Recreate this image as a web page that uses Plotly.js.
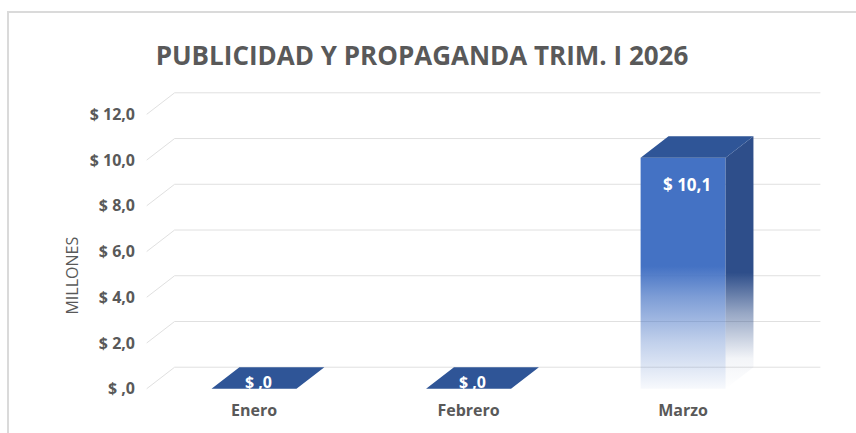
<!DOCTYPE html>
<html>
<head>
<meta charset="utf-8">
<script src="https://cdn.plot.ly/plotly-3.0.1.min.js"></script>
<style>
  html, body { margin: 0; padding: 0; background: #ffffff; }
  #wrap { position: relative; width: 856px; height: 433px; overflow: hidden; }
  #chart { width: 856px; height: 433px; }
  #frame { position: absolute; left: 7px; top: 11px; width: 900px; height: 500px;
           border-top: 2px solid #dadada; border-left: 2px solid #dadada; pointer-events: none; }
</style>
</head>
<body>
<div id="wrap">
  <div id="chart"></div>
  <div id="frame"></div>
</div>
<script>
// ---- data ----
const categories = ['Enero', 'Febrero', 'Marzo'];
const values = [0, 0, 10.1];
const valueLabels = ['$ ,0', '$ ,0', '$ 10,1'];
const tickValues = [0, 2, 4, 6, 8, 10, 12];
const tickLabels = ['$ ,0', '$ 2,0', '$ 4,0', '$ 6,0', '$ 8,0', '$ 10,0', '$ 12,0'];
const chartTitle = 'PUBLICIDAD Y PROPAGANDA TRIM. I 2026';
const axisTitle = 'MILLONES';

// ---- style / 3D depth constants ----
const barWidth = 0.396;
const hw = barWidth / 2;
const dx = 0.13;   // depth offset on x (category units)
const dy = 0.94;   // depth offset on y (value units)
const gridRight = 2.64;
const textColor = '#595959';
const FONT = 'Open Sans, Liberation Sans, sans-serif';

const idx = categories.map((c, i) => i);

// front faces (bars)
const frontFace = {
  type: 'bar', x: idx, y: values, width: barWidth,
  marker: { color: '#4472C4', line: { width: 0 } },
  hoverinfo: 'skip', showlegend: false
};

// side faces
const sx = [], sy = [];
idx.forEach((i) => {
  const v = values[i];
  if (v <= 0) return;
  sx.push(i + hw, i + hw, i + hw + dx, i + hw + dx, i + hw, null);
  sy.push(0, v, v + dy, dy, 0, null);
});
const vmax = Math.max(...values);
const sideFace = {
  type: 'scatter', mode: 'lines', x: sx, y: sy, fill: 'toself',
  line: { width: 0, color: 'rgba(0,0,0,0)' },
  fillcolor: '#2E4E8A',
  fillgradient: {
    type: 'vertical', start: 0, stop: vmax + dy,
    colorscale: [
      [0, 'rgba(46,78,138,0)'],
      [0.12, 'rgba(46,78,138,0.06)'],
      [0.3, 'rgba(46,78,138,0.5)'],
      [0.46, 'rgba(46,78,138,1)'],
      [1, 'rgba(46,78,138,1)']
    ]
  },
  hoverinfo: 'skip', showlegend: false
};

// top faces
const tx = [], ty = [];
idx.forEach((i) => {
  const v = values[i];
  tx.push(i - hw, i - hw + dx, i + hw + dx, i + hw, i - hw, null);
  ty.push(v, v + dy, v + dy, v, v, null);
});
const topFace = {
  type: 'scatter', mode: 'lines', x: tx, y: ty, fill: 'toself',
  line: { width: 0, color: 'rgba(0,0,0,0)' },
  fillcolor: '#2F5597',
  hoverinfo: 'skip', showlegend: false
};

// perspective gridlines
const shapes = tickValues.map((v) => ({
  type: 'path', xref: 'x', yref: 'y', layer: 'below',
  path: 'M ' + (-0.5) + ',' + v + ' L ' + (-0.5 + dx) + ',' + (v + dy) + ' L ' + gridRight + ',' + (v + dy),
  line: { color: '#e0e0e0', width: 1 }
}));

// value labels
const annotations = idx.map((i) => {
  const v = values[i];
  return {
    x: i + 0.02, y: v > 0 ? v : dy * 0.3, xref: 'x', yref: 'y',
    text: '<b>' + valueLabels[i] + '</b>', showarrow: false,
    yshift: v > 0 ? -27 : 0,
    font: { family: FONT, size: v > 0 ? 17 : 16, color: '#ffffff' }
  };
});
// axis title (placed like the original, beside the value scale)
annotations.push({
  xref: 'paper', yref: 'y', x: 0, y: 4.95, xanchor: 'center', yanchor: 'middle',
  xshift: -64, textangle: -90, showarrow: false, text: axisTitle,
  font: { family: FONT, size: 16, color: textColor }
});

const layout = {
  width: 856, height: 433,
  margin: { l: 136, r: 12, t: 80, b: 34 },
  paper_bgcolor: 'rgba(0,0,0,0)', plot_bgcolor: 'rgba(0,0,0,0)',
  font: { family: FONT, color: textColor },
  title: {
    text: '<b>' + chartTitle + '</b>',
    x: 0.493, xref: 'container', xanchor: 'center',
    y: 1 - 56 / 433, yref: 'container', yanchor: 'middle',
    font: { family: FONT, size: 26, color: textColor }
  },
  xaxis: {
    type: 'linear', range: [-0.55, 2.75],
    tickmode: 'array', tickvals: idx, ticktext: categories,
    showgrid: false, zeroline: false, showline: false, ticks: '',
    tickfont: { family: FONT, size: 16, color: textColor, weight: 'bold' },
    fixedrange: true
  },
  yaxis: {
    range: [-0.45, 13.5],
    tickmode: 'array', tickvals: tickValues, ticktext: tickLabels,
    showgrid: false, zeroline: false, showline: false, ticks: '',
    tickfont: { family: FONT, size: 16, color: textColor, weight: 'bold' },
    fixedrange: true
  },
  shapes: shapes,
  annotations: annotations,
  showlegend: false
};

Plotly.newPlot('chart', [frontFace, sideFace, topFace], layout, { displayModeBar: false, staticPlot: true }).then((gd) => {
  const svg = gd.querySelector('svg.main-svg');
  const NS = 'http://www.w3.org/2000/svg';
  let defs = svg.querySelector('defs');
  if (!defs) { defs = document.createElementNS(NS, 'defs'); svg.insertBefore(defs, svg.firstChild); }
  const g = document.createElementNS(NS, 'linearGradient');
  g.setAttribute('id', 'frontGrad');
  g.setAttribute('x1', '0'); g.setAttribute('y1', '0');
  g.setAttribute('x2', '0'); g.setAttribute('y2', '1');
  [[0, 1], [0.47, 1], [0.6, 0.7], [0.8, 0.33], [1, 0.04]].forEach(([o, a]) => {
    const s = document.createElementNS(NS, 'stop');
    s.setAttribute('offset', o);
    s.setAttribute('stop-color', '#4472C4');
    s.setAttribute('stop-opacity', a);
    g.appendChild(s);
  });
  defs.appendChild(g);
  gd.querySelectorAll('.barlayer .point path').forEach((p) => { p.style.fill = 'url(#frontGrad)'; });
});
</script>
</body>
</html>
